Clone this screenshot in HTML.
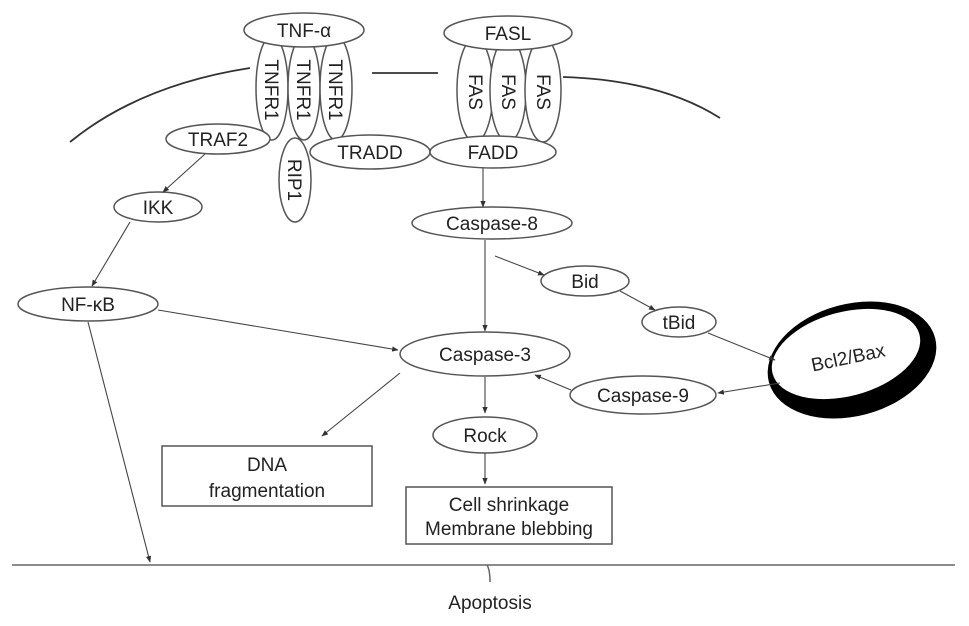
<!DOCTYPE html>
<html><head><meta charset="utf-8"><style>
html,body{margin:0;padding:0;background:#fff;}
svg{display:block;}
text{font-family:"Liberation Sans",Arial,sans-serif;font-size:19px;fill:#222;}
</style></head><body>
<svg width="969" height="626" viewBox="0 0 969 626" xmlns="http://www.w3.org/2000/svg">
<defs>
<marker id="a" viewBox="0 0 10 10" refX="9" refY="5" markerWidth="6" markerHeight="6" orient="auto"><path d="M0,1 L10,5 L0,9 z" fill="#333"/></marker>
</defs>
<g fill="none" stroke="#333" stroke-width="1.8">
<path d="M70,142 Q140,85 250,68"/>
<line x1="372" y1="73" x2="438" y2="73"/>
<path d="M563,77 Q660,80 720,118"/>
</g>
<g fill="#fff" stroke="#555" stroke-width="1.5">
<ellipse cx="272" cy="88" rx="16" ry="52"/>
<ellipse cx="304" cy="88" rx="16" ry="52"/>
<ellipse cx="336" cy="88" rx="16" ry="52"/>
<ellipse cx="304" cy="30" rx="60" ry="17"/>
<ellipse cx="475" cy="90" rx="18" ry="52"/>
<ellipse cx="508" cy="90" rx="18" ry="52"/>
<ellipse cx="543" cy="90" rx="18" ry="52"/>
<ellipse cx="508" cy="33" rx="64" ry="17"/>
<ellipse cx="370" cy="152" rx="60" ry="17"/>
<ellipse cx="493" cy="152" rx="63" ry="16"/>
<ellipse cx="218" cy="139" rx="52" ry="15"/>
<ellipse cx="295" cy="180" rx="16" ry="42"/>
<ellipse cx="158" cy="207" rx="44" ry="15"/>
<ellipse cx="492" cy="223" rx="80" ry="16"/>
<ellipse cx="88" cy="304" rx="70" ry="17"/>
<ellipse cx="585" cy="281" rx="44" ry="15"/>
<ellipse cx="679" cy="322" rx="37" ry="15"/>
<ellipse cx="485" cy="354" rx="85" ry="22"/>
<ellipse cx="643" cy="395" rx="73" ry="19"/>
<ellipse cx="485" cy="435" rx="52" ry="18"/>
<rect x="162" y="446" width="210" height="60"/>
<rect x="406" y="487" width="206" height="57"/>
</g>
<ellipse cx="852" cy="360" rx="86" ry="56" transform="rotate(-15 852 360)" fill="#000"/>
<ellipse cx="846" cy="354" rx="76" ry="42" transform="rotate(-15 846 354)" fill="#fff"/>
<g stroke="#444" stroke-width="1.1" fill="none" marker-end="url(#a)">
<line x1="205" y1="154" x2="163" y2="192"/>
<line x1="130" y1="222" x2="92" y2="286"/>
<line x1="158" y1="310" x2="398" y2="350"/>
<line x1="88" y1="322" x2="150" y2="562"/>
<line x1="483" y1="168" x2="483" y2="207"/>
<line x1="485" y1="240" x2="485" y2="331"/>
<line x1="495" y1="256" x2="544" y2="275"/>
<line x1="620" y1="291" x2="655" y2="310"/>
<line x1="708" y1="333" x2="775" y2="360"/>
<line x1="780" y1="383" x2="718" y2="393"/>
<line x1="571" y1="390" x2="535" y2="375"/>
<line x1="400" y1="373" x2="322" y2="436"/>
<line x1="485" y1="377" x2="485" y2="413"/>
<line x1="485" y1="453" x2="485" y2="484"/>
</g>
<path d="M12,565 L955,565 M487,565 Q490,570 490,582" stroke="#666" stroke-width="1.5" fill="none"/>
<g text-anchor="middle">
<text x="304" y="37">TNF-α</text>
<text x="508" y="40">FASL</text>
<text transform="translate(265,90) rotate(90)" y="0">TNFR1</text>
<text transform="translate(297,90) rotate(90)">TNFR1</text>
<text transform="translate(329,90) rotate(90)">TNFR1</text>
<text transform="translate(469,92) rotate(90)">FAS</text>
<text transform="translate(502,92) rotate(90)">FAS</text>
<text transform="translate(537,92) rotate(90)">FAS</text>
<text x="218" y="146">TRAF2</text>
<text transform="translate(288,180) rotate(90)">RIP1</text>
<text x="370" y="159">TRADD</text>
<text x="493" y="159">FADD</text>
<text x="158" y="214">IKK</text>
<text x="492" y="230">Caspase-8</text>
<text x="88" y="311">NF-κB</text>
<text x="585" y="288">Bid</text>
<text x="679" y="329">tBid</text>
<text x="848" y="364" transform="rotate(-12 848 357)">Bcl2/Bax</text>
<text x="485" y="361">Caspase-3</text>
<text x="643" y="402">Caspase-9</text>
<text x="485" y="442">Rock</text>
<text x="267" y="471">DNA</text>
<text x="267" y="497">fragmentation</text>
<text x="509" y="511">Cell shrinkage</text>
<text x="509" y="535">Membrane blebbing</text>
<text x="490" y="609">Apoptosis</text>
</g>
</svg>
</body></html>
